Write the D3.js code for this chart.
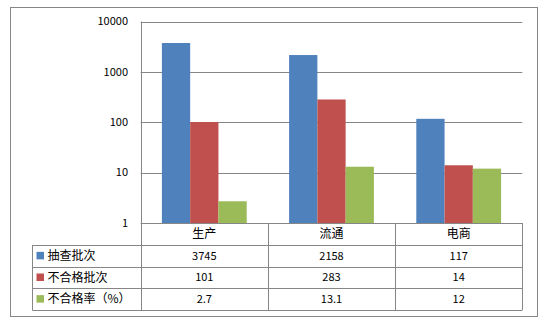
<!DOCTYPE html>
<html>
<head>
<meta charset="utf-8">
<script src="https://cdn.jsdelivr.net/npm/d3@7"></script>
<style>
  html, body { margin: 0; padding: 0; background: #fff; }
  svg text { font-family: "Noto Sans CJK SC", "Noto Sans", sans-serif; fill: #000; }
</style>
</head>
<body>
<svg id="chart" width="548" height="324"></svg>
<script>
// Categories and series
const categories = ["生产", "流通", "电商"];
const seriesNames = ["抽查批次", "不合格批次", "不合格率（%）"];
const seriesColors = ["#4F81BD", "#C0504D", "#9BBB59"];
const inspected = [3745, 2158, 117];
const failed = [101, 283, 14];
const failRate = [2.7, 13.1, 12];
const tableLabels = [["3745", "2158", "117"], ["101", "283", "14"], ["2.7", "13.1", "12"]];
const yTicks = [1, 10, 100, 1000, 10000];

const series = [inspected, failed, failRate];

const svg = d3.select("#chart");
const gridColor = "#868686";

// Layout
const plotLeft = 140.7, plotRight = 522.3, plotTop = 21.5, plotBottom = 223;
const tableLeft = 32.3;
const rowEdges = [223, 245, 266.7, 288.3, 310];

// Outer chart border
svg.append("rect")
  .attr("x", 10.5).attr("y", 7.5)
  .attr("width", 527).attr("height", 309)
  .attr("fill", "none").attr("stroke", gridColor).attr("stroke-width", 1);

const x = d3.scaleBand().domain(categories).range([plotLeft, plotRight]);
const y = d3.scaleLog().domain([1, 10000]).range([plotBottom, plotTop]);
const inner = d3.scaleBand().domain(d3.range(series.length))
  .range([0, x.bandwidth()]).paddingInner(0).paddingOuter(0.75);

// Gridlines
svg.append("g").selectAll("line").data(yTicks.slice(1)).join("line")
  .attr("x1", plotLeft).attr("x2", plotRight)
  .attr("y1", d => Math.round(y(d)) + 0.5).attr("y2", d => Math.round(y(d)) + 0.5)
  .attr("stroke", gridColor).attr("stroke-width", 1);

// Bars
series.forEach((vals, si) => {
  svg.append("g").selectAll("rect").data(vals).join("rect")
    .attr("x", (d, i) => x(categories[i]) + inner(si))
    .attr("width", inner.bandwidth())
    .attr("y", d => y(d))
    .attr("height", d => y(1) - y(d))
    .attr("fill", seriesColors[si]);
});

// Y tick labels
svg.append("g").selectAll("text").data(yTicks).join("text")
  .attr("x", 128).attr("y", d => y(d))
  .attr("dy", "0.35em")
  .attr("text-anchor", "end")
  .attr("font-size", 11)
  .text(d => d3.format("d")(d));

// Data table lines
const tbl = svg.append("g").attr("stroke", gridColor).attr("stroke-width", 1).attr("fill", "none");
// left axis line, running through the table
tbl.append("line").attr("x1", Math.round(plotLeft) + 0.5).attr("x2", Math.round(plotLeft) + 0.5)
  .attr("y1", plotTop).attr("y2", rowEdges[4]);
// axis baseline
tbl.append("line").attr("x1", plotLeft).attr("x2", plotRight)
  .attr("y1", Math.round(rowEdges[0]) + 0.5).attr("y2", Math.round(rowEdges[0]) + 0.5);
// table rows
rowEdges.slice(1).forEach(ry => {
  tbl.append("line").attr("x1", tableLeft).attr("x2", plotRight)
    .attr("y1", Math.round(ry) + 0.5).attr("y2", Math.round(ry) + 0.5);
});
// left edge of legend column
tbl.append("line").attr("x1", Math.round(tableLeft) + 0.5).attr("x2", Math.round(tableLeft) + 0.5)
  .attr("y1", rowEdges[1]).attr("y2", rowEdges[4]);
// column dividers
categories.forEach(c => {
  const cx = Math.round(x(c) + x.bandwidth()) + 0.5;
  tbl.append("line").attr("x1", cx).attr("x2", cx)
    .attr("y1", rowEdges[0]).attr("y2", rowEdges[4]);
});

// Category labels
svg.append("g").selectAll("text").data(categories).join("text")
  .attr("x", d => x(d) + x.bandwidth() / 2)
  .attr("y", (rowEdges[0] + rowEdges[1]) / 2)
  .attr("dy", "0.36em")
  .attr("text-anchor", "middle")
  .attr("font-size", 12)
  .text(d => d);

// Table values
tableLabels.forEach((row, ri) => {
  const cy = (rowEdges[ri + 1] + rowEdges[ri + 2]) / 2;
  svg.append("g").selectAll("text").data(row).join("text")
    .attr("x", (d, i) => x(categories[i]) + x.bandwidth() / 2)
    .attr("y", cy)
    .attr("dy", "0.36em")
    .attr("text-anchor", "middle")
    .attr("font-size", 11)
    .text(d => d);
  // legend key and name
  svg.append("rect")
    .attr("x", 36.5).attr("y", cy - 4)
    .attr("width", 7.5).attr("height", 7.5)
    .attr("fill", seriesColors[ri]);
  svg.append("text")
    .attr("x", 47.5).attr("y", cy)
    .attr("dy", "0.36em")
    .attr("font-size", 12)
    .text(seriesNames[ri]);
});
</script>
</body>
</html>
